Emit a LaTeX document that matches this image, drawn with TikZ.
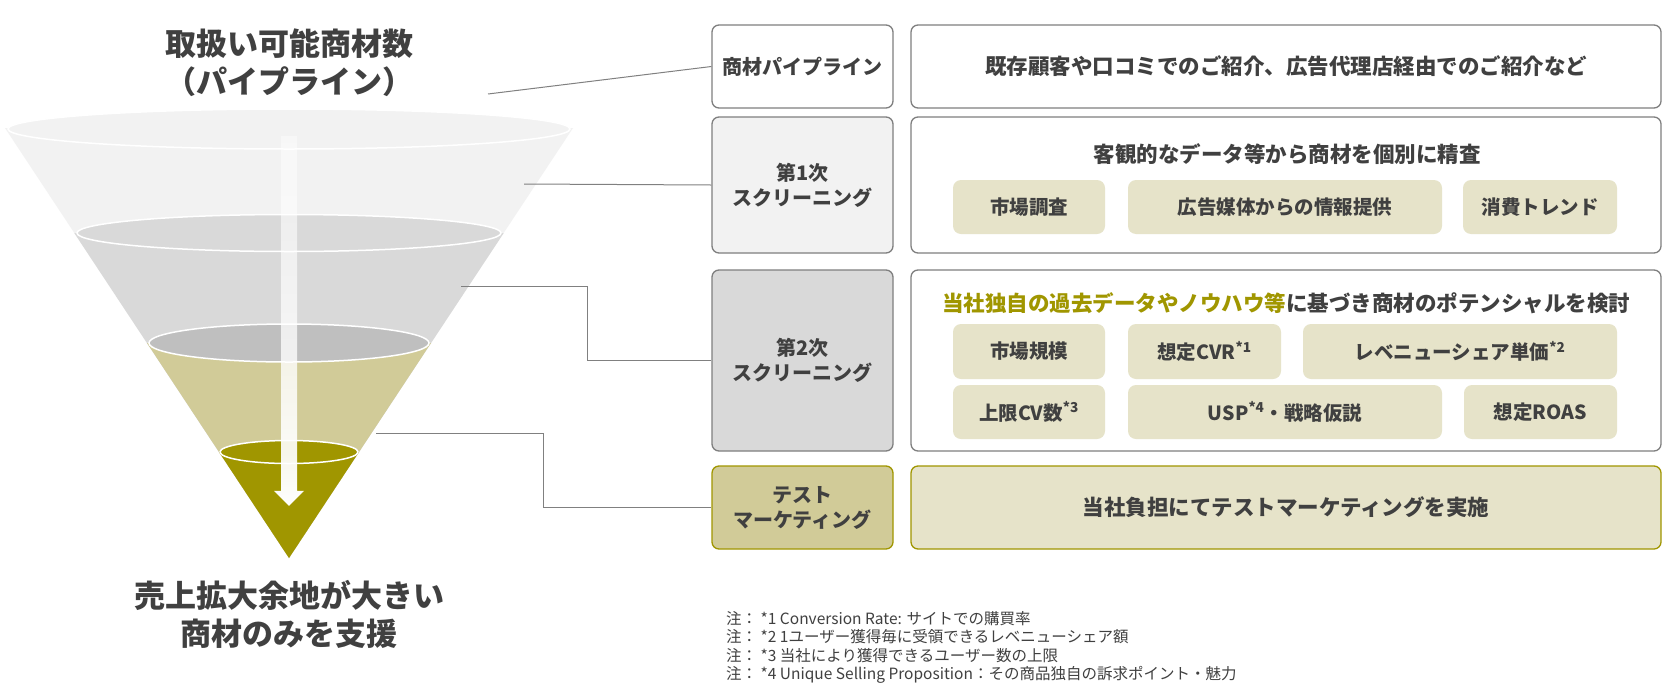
\documentclass[tikz,border=0pt]{standalone}
\usepackage{fontspec}
\setmainfont{Noto Sans CJK JP}
\usetikzlibrary{fadings}
\definecolor{txtgray}{HTML}{404040}
\definecolor{linegray}{HTML}{808080}
\definecolor{bordergray}{HTML}{7F7F7F}
\definecolor{fA}{HTML}{F2F2F2}
\definecolor{fB}{HTML}{D9D9D9}
\definecolor{fC}{HTML}{BFBFBF}
\definecolor{fD}{HTML}{D1CB98}
\definecolor{oliveD}{HTML}{A09600}
\definecolor{subfill}{HTML}{E6E3C9}
\newcommand\setfs[2]{\fontsize{#1}{#2}\selectfont}
\tikzfading[name=arrowfade, top color=transparent!55, bottom color=transparent!0]
\begin{document}
\begin{tikzpicture}[x=1pt,y=-1pt,
  lbox/.style={draw=bordergray, line width=1.3pt, rounded corners=7pt, minimum width=181pt, text=txtgray, font=\bfseries\setfs{20}{25}, align=center, inner sep=0pt},
  rbox/.style={draw=bordergray, line width=1.3pt, rounded corners=7pt, minimum width=750pt, text=txtgray, font=\bfseries\setfs{21.5}{26}, inner sep=0pt},
  subbox/.style={fill=subfill, rounded corners=8pt, text=txtgray, font=\bfseries\setfs{19.5}{23}, inner sep=0pt},
  rtext/.style={text=txtgray, font=\bfseries\setfs{21.5}{26}, inner sep=0pt},
  conn/.style={draw=linegray, line width=1pt},
  ring/.style={draw=white, line width=1.5pt},
  bigt/.style={text=txtgray, font=\bfseries\setfs{31}{38}, align=center, inner sep=0pt},
  note/.style={text=txtgray, font=\setfs{15.5}{18.5}, align=left, inner sep=0pt, anchor=north west}
]
\useasboundingbox (0,0) rectangle (1675,691);
\fill[white] (0,0) rectangle (1675,691);

% ---------- funnel ----------
\fill[fA] (5,128) -- (573,128) -- (289,558) -- cycle;
\filldraw[fill=fA, ring] (289,129) ellipse [x radius=281, y radius=20];
\fill[fB] (74.3,233) -- (503.7,233) -- (289,558) -- cycle;
\filldraw[fill=fB, ring] (289,233) ellipse [x radius=212, y radius=18.5];
\fill[fD] (147,343) -- (431,343) -- (289,558) -- cycle;
\filldraw[fill=fC, ring] (289,343) ellipse [x radius=140, y radius=19];
\fill[oliveD] (219,452) -- (359,452) -- (289,558) -- cycle;
\filldraw[fill=oliveD, ring] (289,452) ellipse [x radius=69, y radius=11.5];
% arrow
\fill[white, path fading=arrowfade] (281,136) -- (297,136) -- (297,491) -- (304,491) -- (289,506) -- (274,491) -- (281,491) -- cycle;

% titles
\node[bigt] (top) at (289,63) {取扱い可能商材数\\（パイプライン）};
\node[bigt] (bot) at (289,614) {売上拡大余地が大きい\\商材のみを支援};

% funnel contact points
\coordinate (f1) at (488,94);
\coordinate (f2) at (524,184);
\coordinate (f3) at (461,286);
\coordinate (f4) at (376,433);

% ---------- left boxes ----------
\node[lbox, fill=white, minimum height=83pt] (b1l) at (802.5,66.5) {商材パイプライン};
\node[lbox, fill=fA, minimum height=136pt] (b2l) at (802.5,185) {第1次\\スクリーニング};
\node[lbox, fill=fB, minimum height=181pt] (b3l) at (802.5,360.5) {第2次\\スクリーニング};
\node[lbox, fill=fD, draw=oliveD, minimum height=83pt] (b4l) at (802.5,507.5) {テスト\\マーケティング};

% ---------- right boxes ----------
\node[rbox, fill=white, minimum height=83pt] (b1r) at (1286,66.5) {\raisebox{-1.5pt}{既存顧客や口コミでのご紹介、広告代理店経由でのご紹介など}};
\node[rbox, fill=white, minimum height=136pt] (b2r) at (1286,185) {};
\node[rbox, fill=white, minimum height=181pt] (b3r) at (1286,360.5) {};
\node[rbox, fill=subfill, draw=oliveD, minimum height=83pt] (b4r) at (1286,507.5) {当社負担にてテストマーケティングを実施};

\node[rtext] (h2) at (1287,154) {客観的なデータ等から商材を個別に精査};
\node[rtext] (h3) at (1286,303) {{\color{oliveD}当社独自の過去データやノウハウ等}に基づき商材のポテンシャルを検討};

% sub boxes row 2
\node[subbox, minimum width=152pt, minimum height=54pt] (s1) at (1029,207) {市場調査};
\node[subbox, minimum width=314pt, minimum height=54pt] (s2) at (1285,207) {広告媒体からの情報提供};
\node[subbox, minimum width=154pt, minimum height=54pt] (s3) at (1540,207) {消費トレンド};
% sub boxes row 3
\node[subbox, minimum width=152pt, minimum height=55pt] (s4) at (1029,351.5) {市場規模};
\node[subbox, minimum width=153pt, minimum height=55pt] (s5) at (1204.5,351.5) {想定CVR\textsuperscript{*1}};
\node[subbox, minimum width=314pt, minimum height=55pt] (s6) at (1460,351.5) {レベニューシェア単価\textsuperscript{*2}};
\node[subbox, minimum width=152pt, minimum height=54pt] (s7) at (1029,412) {上限CV数\textsuperscript{*3}};
\node[subbox, minimum width=314pt, minimum height=54pt] (s8) at (1285,412) {USP\textsuperscript{*4}・戦略仮説};
\node[subbox, minimum width=153pt, minimum height=54pt] (s9) at (1540.5,412) {想定ROAS};

% ---------- connectors ----------
\draw[conn] (f1) -- (b1l.west);
\draw[conn] (f2) -- (b2l.west);
\draw[conn] (f3) -- ++(126,0) |- (b3l.west);
\draw[conn] (f4) -- ++(167,0) |- (b4l.west);

% ---------- notes ----------
\node[note] (notes) at (726,611) {注： *1 Conversion Rate: サイトでの購買率\\注： *2 1ユーザー獲得毎に受領できるレベニューシェア額\\注： *3 当社により獲得できるユーザー数の上限\\注： *4 Unique Selling Proposition：その商品独自の訴求ポイント・魅力};
\end{tikzpicture}
\end{document}
